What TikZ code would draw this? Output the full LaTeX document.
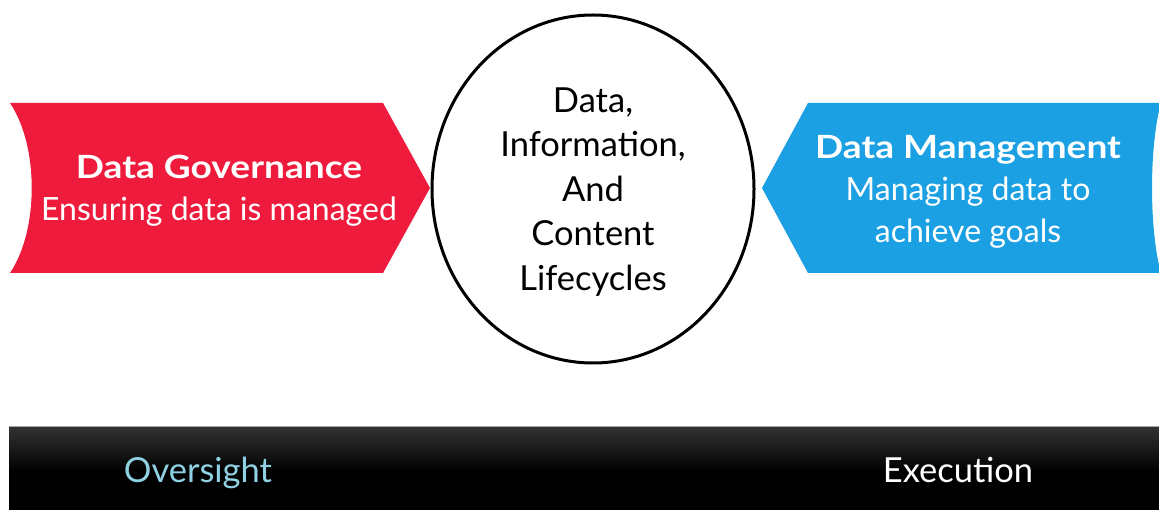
\documentclass[tikz,border=0pt]{standalone}
\usepackage{graphicx}
\usepackage{fontspec}
\setmainfont{Lato}
\definecolor{dgred}{HTML}{EF1B3C}
\definecolor{dmblue}{HTML}{1BA0E4}
\definecolor{oversightblue}{HTML}{8FD0E2}
\newcommand{\widebold}[1]{\scalebox{1.16}[1]{\bfseries #1}}
\tikzset{
  shapelabel/.style={text=white, align=center, inner sep=0pt, font=\fontsize{32}{42}\selectfont},
  coretext/.style={align=center, inner sep=0pt, font=\fontsize{34.5}{44.5}\selectfont, text=black},
  bartext/.style={inner sep=0pt, font=\fontsize{34.5}{40}\selectfont, anchor=base}
}
\begin{document}
\begin{tikzpicture}[x=1pt,y=-1pt]
\useasboundingbox (0,0) rectangle (1159,510);
\clip (0,0) rectangle (1159,510);
\fill[white] (0,0) rectangle (1159,510);
% red chevron
\fill[dgred] (10,103) -- (383,103) -- (430,188) -- (383,273) -- (10,273)
  .. controls (39,230) and (39,146) .. (10,103) -- cycle;
% blue chevron
\fill[dmblue] (808,103) -- (1161,103) .. controls (1149,146) and (1149,230) .. (1161,273)
  -- (808,273) -- (762,188) -- cycle;
% core ellipse
\draw[line width=3pt, fill=white] (593,189) ellipse [x radius=161, y radius=174];
% bottom bar
\fill[black] (9,426) rectangle (1170,515);
\shade[top color=black!80, bottom color=black] (9,426) rectangle (1170,472);
\draw[black!35, line width=1pt] (9,426) -- (1170,426);
% texts
\node[shapelabel] (dg) at (219,191) {\widebold{Data Governance}\\Ensuring data is managed};
\node[shapelabel] (dm) at (968,192) {\widebold{Data Management}\\Managing data to\\achieve goals};
\node[coretext] (core) at (593,192) {Data,\\Information,\\And\\Content\\Lifecycles};
\node[bartext, text=oversightblue] (oversight) at (198,482) {Oversight};
\node[bartext, text=white] (execution) at (958,482) {Execution};
\end{tikzpicture}
\end{document}
